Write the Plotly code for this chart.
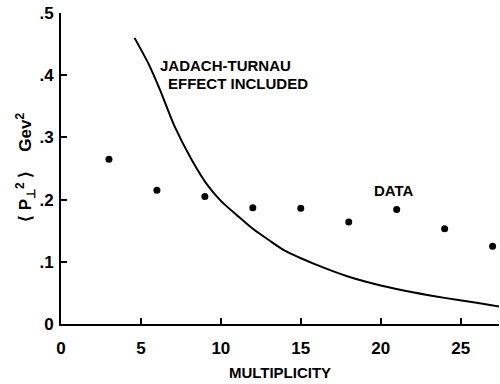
import plotly.graph_objects as go

# Data points (multiplicity, <p_T^2> in GeV^2)
data_x = [3, 6, 9, 12, 15, 18, 21, 24, 27]
data_y = [0.265, 0.215, 0.205, 0.187, 0.186, 0.164, 0.184, 0.153, 0.125]

# Jadach-Turnau curve
curve_x = [4.6, 5.5, 6.2, 7.1, 8.2, 9.2, 10, 11, 12, 13, 14, 16, 18, 20, 22, 24, 26, 27.45]
curve_y = [0.46, 0.417, 0.376, 0.318, 0.263, 0.222, 0.198, 0.175, 0.153, 0.135, 0.118,
           0.095, 0.076, 0.062, 0.051, 0.042, 0.034, 0.028]

x_ticks = [0, 5, 10, 15, 20, 25]
y_ticks = [0, 0.1, 0.2, 0.3, 0.4, 0.5]
y_tick_text = ["0", ".1", ".2", ".3", ".4", ".5"]

FONT = "Liberation Sans"
L, R, T, B = 61, 1, 13, 60
W, H = 500, 384
PW, PH = W - L - R, H - T - B

fig = go.Figure()
fig.add_trace(go.Scatter(x=curve_x, y=curve_y, mode="lines",
                         line=dict(color="black", width=2, shape="spline", smoothing=0.8),
                         showlegend=False, cliponaxis=False))
fig.add_trace(go.Scatter(x=data_x, y=data_y, mode="markers",
                         marker=dict(color="black", size=7),
                         showlegend=False, cliponaxis=False))

fig.update_layout(
    width=W, height=H,
    margin=dict(l=L, r=R, t=T, b=B, autoexpand=False),
    paper_bgcolor="white", plot_bgcolor="white",
    font=dict(family=FONT, color="black", size=16, weight="bold"),
    xaxis=dict(range=[0, 27.4], tickvals=x_ticks, ticks="inside", ticklen=6,
               tickwidth=1.5, tickcolor="black", showline=True, linecolor="black",
               linewidth=2, showgrid=False, zeroline=False, automargin=False,
               tickfont=dict(size=17, family=FONT, weight="bold"),
               ticklabelstandoff=8,
               title=dict(text="MULTIPLICITY", font=dict(size=15, family=FONT, weight="bold"),
                          standoff=10)),
    yaxis=dict(range=[0, 0.5], tickvals=y_ticks, ticktext=y_tick_text, ticks="inside",
               ticklen=6, tickwidth=1.5, tickcolor="black", showline=True,
               linecolor="black", linewidth=2, showgrid=False, zeroline=False,
               automargin=False,
               tickfont=dict(size=17, family=FONT, weight="bold"),
               ticklabelstandoff=2),
)

fig.add_annotation(xref="paper", yref="paper", x=(25 - L) / PW, y=1 - (168 - T) / PH,
                   text="⟨ P<sub>⊥</sub><sup>2</sup> ⟩    Gev<sup>2</sup>", textangle=-90,
                   showarrow=False, xanchor="center", yanchor="middle",
                   font=dict(size=17, family=FONT, weight="bold"))

fig.add_annotation(x=6.06, y=0.416, text="JADACH-TURNAU", showarrow=False,
                   xanchor="left", yanchor="middle",
                   font=dict(size=15, family=FONT, weight="bold"))
fig.add_annotation(x=6.56, y=0.386, text="EFFECT INCLUDED", showarrow=False,
                   xanchor="left", yanchor="middle",
                   font=dict(size=15, family=FONT, weight="bold"))
fig.add_annotation(x=20.8, y=0.215, text="DATA", showarrow=False,
                   xanchor="center", yanchor="middle",
                   font=dict(size=15, family=FONT, weight="bold"))

fig.write_html("out.html", config={"displayModeBar": False},
               post_script="document.body.style.margin='0';")
